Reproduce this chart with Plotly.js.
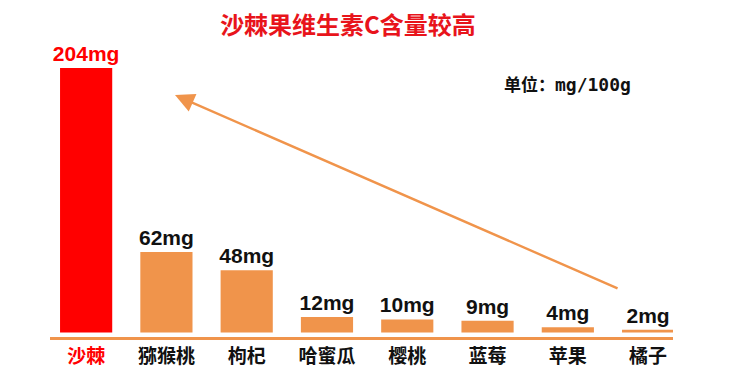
<!DOCTYPE html>
<html>
<head>
<meta charset="utf-8">
<script src="https://cdn.plot.ly/plotly-3.0.1.min.js"></script>
<style>html,body{margin:0;padding:0;background:#fff;}#chart{width:750px;height:372px;}</style>
</head>
<body>
<div id="chart"></div>
<script>
const categories = ['沙棘', '猕猴桃', '枸杞', '哈蜜瓜', '樱桃', '蓝莓', '苹果', '橘子'];
const vitaminC = [204, 62, 48, 12, 10, 9, 4, 2];
const unitLabel = '单位：';
const unitValue = 'mg/100g';
const titleText = '沙棘果维生素C含量较高';

const RED = '#FF0000';
const ORANGE = '#F0944B';
const barColors = categories.map((c, i) => i === 0 ? RED : ORANGE);
const textColors = categories.map((c, i) => i === 0 ? RED : '#111111');
const tickText = categories.map((c, i) => i === 0 ? '<span style="color:#FF0000">' + c + '</span>' : c);

const trace = {
  type: 'bar',
  x: categories,
  y: vitaminC,
  marker: {color: barColors, line: {width: 0}},
  text: vitaminC.map(v => v + 'mg'),
  textposition: 'outside',
  constraintext: 'none',
  textfont: {family: '"Liberation Sans Narrow", "Liberation Sans", sans-serif', size: 21, color: textColors, weight: 'bold', stretch: 'condensed'},
  cliponaxis: false,
  hoverinfo: 'none'
};

const layout = {
  width: 750,
  height: 372,
  margin: {l: 50, r: 77, t: 40, b: 35},
  paper_bgcolor: '#ffffff',
  plot_bgcolor: '#ffffff',
  showlegend: false,
  bargap: 0.35,
  title: {
    text: titleText,
    x: 0.464, xanchor: 'center',
    y: 0.93, yanchor: 'middle',
    font: {family: '"Noto Sans CJK SC", sans-serif', size: 24, color: '#E8141B', weight: 'bold'}
  },
  xaxis: {
    type: 'category',
    range: [-0.45, 7.31],
    showline: true, linecolor: ORANGE, linewidth: 3,
    showgrid: false, zeroline: false,
    ticks: '',
    tickmode: 'array', tickvals: categories, ticktext: tickText,
    tickfont: {family: '"Noto Sans CJK SC", sans-serif', size: 19, color: '#111111', weight: 'bold'}
  },
  yaxis: {
    range: [-3.5, 225.5],
    visible: false,
    showgrid: false, zeroline: false
  },
  annotations: [
    {
      xref: 'paper', yref: 'paper', x: 0.7255, y: 0.852, xanchor: 'left', yanchor: 'middle',
      text: unitLabel + '<span style="font-family:\'DejaVu Sans Mono\';font-size:18px">' + unitValue + '</span>',
      showarrow: false,
      font: {family: '"Noto Sans CJK SC", sans-serif', size: 17, color: '#111111', weight: 'bold'}
    },
    {
      xref: 'x', yref: 'y', axref: 'x', ayref: 'y',
      x: 1.107, y: 183, ax: 6.638, ay: 33.5,
      text: '', showarrow: true,
      arrowhead: 2, arrowsize: 1.6, arrowwidth: 2.4, arrowcolor: ORANGE
    }
  ]
};

Plotly.newPlot('chart', [trace], layout, {displayModeBar: false, staticPlot: true});
</script>
</body>
</html>
